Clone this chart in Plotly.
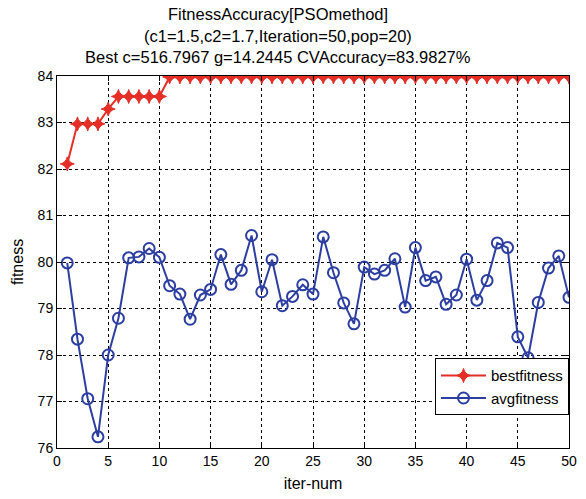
import plotly.graph_objects as go

iterations = list(range(1, 51))
best_fitness = [82.11, 82.97, 82.97, 82.97, 83.29, 83.56, 83.56, 83.56, 83.56, 83.56] + [83.98] * 40
avg_fitness = [79.98, 78.34, 77.06, 76.24, 78.00, 78.79, 80.09, 80.11, 80.29, 80.10,
               79.49, 79.31, 78.77, 79.29, 79.41, 80.16, 79.52, 79.82, 80.57, 79.36,
               80.05, 79.06, 79.26, 79.51, 79.31, 80.54, 79.77, 79.12, 78.67, 79.89,
               79.74, 79.82, 80.07, 79.03, 80.31, 79.60, 79.68, 79.09, 79.29, 80.06,
               79.18, 79.60, 80.41, 80.31, 78.39, 77.94, 79.13, 79.87, 80.13, 79.24]
x_ticks = [0, 5, 10, 15, 20, 25, 30, 35, 40, 45, 50]
y_ticks = [76, 77, 78, 79, 80, 81, 82, 83, 84]
title_lines = ["FitnessAccuracy[PSOmethod]",
               "(c1=1.5,c2=1.7,Iteration=50,pop=20)",
               "Best c=516.7967 g=14.2445 CVAccuracy=83.9827%"]

RED = "rgb(228,46,38)"
BLUE = "rgb(44,62,160)"
FONT = "Liberation Sans, Arial, sans-serif"

fig = go.Figure()
fig.add_trace(go.Scatter(
    x=iterations, y=best_fitness, name="bestfitness", mode="lines+markers",
    line=dict(color=RED, width=2),
    marker=dict(symbol="star-diamond", size=10, color=RED, line=dict(color=RED, width=1)),
))
fig.add_trace(go.Scatter(
    x=iterations, y=avg_fitness, name="avgfitness", mode="lines+markers",
    line=dict(color=BLUE, width=2),
    marker=dict(symbol="circle-open", size=11, color=BLUE, line=dict(color=BLUE, width=2)),
))

axis_common = dict(
    showline=True, linecolor="black", linewidth=1, mirror="ticks",
    ticks="inside", ticklen=5, tickcolor="black",
    showgrid=True, gridcolor="black", gridwidth=1, griddash="dot",
    zeroline=False, tickfont=dict(family=FONT, size=14, color="black"),
)

fig.update_xaxes(range=[0, 50], tickvals=x_ticks,
                 title=dict(text="iter-num", font=dict(family=FONT, size=16, color="black"), standoff=10),
                 **axis_common)
fig.update_yaxes(range=[76, 84], tickvals=y_ticks,
                 title=dict(text="fitness", font=dict(family=FONT, size=16, color="black"), standoff=10),
                 **axis_common)

for i, (txt, yp) in enumerate(zip(title_lines, [1.168, 1.107, 1.051])):
    fig.add_annotation(text=txt, xref="paper", yref="paper", x=0.431, y=yp,
                       xanchor="center", yanchor="middle", showarrow=False,
                       font=dict(family=FONT, size=16.5, color="black"))

fig.update_layout(
    width=586, height=499,
    margin=dict(l=57, r=9, t=76, b=49),
    paper_bgcolor="white", plot_bgcolor="white",
    font=dict(family=FONT, color="black"),
    legend=dict(
        x=1, xanchor="right", y=0.088, yanchor="bottom",
        bgcolor="white", bordercolor="black", borderwidth=1,
        font=dict(family=FONT, size=15, color="black"),
        itemwidth=45, tracegroupgap=0,
    ),
    showlegend=True,
)

fig.write_html("out.html")
